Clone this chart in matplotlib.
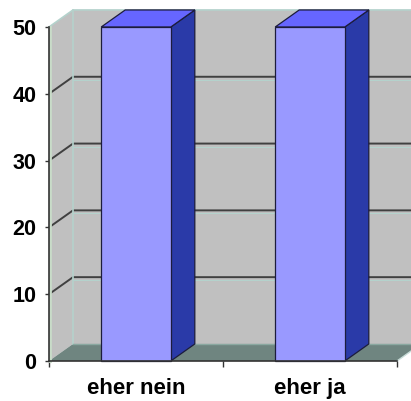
import matplotlib
matplotlib.use("Agg")
import matplotlib.pyplot as plt
from matplotlib.patches import Polygon

categories = ["eher nein", "eher ja"]
values = [50, 50]
y_ticks = [0, 10, 20, 30, 40, 50]

# pseudo-3D depth offsets (in data units)
DX = 0.138
DY = 2.55
BAR_W = 0.40

WALL = "#c0c0c0"
FLOOR = "#6f8580"
EDGE_LIGHT = "#b4d2cc"
FRONT = "#9999ff"
TOP = "#6666ff"
SIDE = "#2a3aa8"
OUTLINE = "#1c1c3c"

plt.rcParams["font.family"] = ["Liberation Sans", "DejaVu Sans"]

fig = plt.figure(figsize=(4.11, 4.01), dpi=100)
ax = fig.add_axes([49 / 411, 40 / 401, 348 / 411, 334 / 401])
ax.set_xlim(0, 2)
ax.set_ylim(0, 50)
ymax = y_ticks[-1]
xr = 2.3

def poly(pts, fc, ec="none", lw=0.0, z=1):
    ax.add_patch(Polygon(pts, closed=True, facecolor=fc, edgecolor=ec,
                         linewidth=lw, zorder=z, clip_on=False))

# walls and floor
poly([(DX, DY), (xr, DY), (xr, ymax + DY), (DX, ymax + DY)], WALL, z=1)
poly([(0, 0), (DX, DY), (DX, ymax + DY), (0, ymax)], WALL, z=1)
poly([(0, 0), (2, 0), (2 + DX, DY), (DX, DY)], FLOOR, z=2)

# gridlines
for v in y_ticks[1:-1]:
    ax.plot([0, DX, xr], [v, v + DY, v + DY], color="#404040", lw=1.4,
            zorder=3, clip_on=False, solid_capstyle="butt")
    ax.plot([DX, xr], [v + DY - 0.45, v + DY - 0.45], color=EDGE_LIGHT,
            lw=0.8, zorder=3, clip_on=False)

# wall edges
ax.plot([DX, DX], [DY, ymax + DY], color=EDGE_LIGHT, lw=1.2, zorder=3, clip_on=False)
ax.plot([0, DX, xr], [ymax, ymax + DY, ymax + DY], color=EDGE_LIGHT, lw=1.2,
        zorder=3, clip_on=False)
ax.plot([0.006, 0.006], [0, ymax], color="#c8dcc8", lw=2.0, zorder=3, clip_on=False)
ax.plot([DX, xr], [DY, DY], color="#8aa8a0", lw=1.0, zorder=3, clip_on=False)
ax.plot([2, 2 + DX], [0, DY], color="#c8dcd8", lw=1.0, zorder=3, clip_on=False)

# bars
for i, v in enumerate(values):
    x0 = i + 0.5 - BAR_W / 2
    x1 = x0 + BAR_W
    poly([(x1, 0), (x1 + DX, DY), (x1 + DX, v + DY), (x1, v)], SIDE, OUTLINE, 0.9, z=5)
    poly([(x0, v), (x1, v), (x1 + DX, v + DY), (x0 + DX, v + DY)], TOP, OUTLINE, 0.9, z=5)
    poly([(x0, 0), (x1, 0), (x1, v), (x0, v)], FRONT, OUTLINE, 0.9, z=6)

# axes lines and ticks
for s in ["top", "right"]:
    ax.spines[s].set_visible(False)
for s in ["left", "bottom"]:
    ax.spines[s].set_color("#333333")
    ax.spines[s].set_linewidth(1.2)
    ax.spines[s].set_zorder(7)
ax.set_facecolor("none")
ax.set_yticks(y_ticks)
ax.set_xticks([0, 1, 2])
ax.set_xticklabels([])
ax.set_xticks([0.5, 1.5], minor=True)
ax.set_xticklabels(categories, minor=True)
ax.tick_params(axis="x", which="major", length=4, width=1, color="#333333", direction="out")
ax.tick_params(axis="x", which="minor", length=0, pad=12, labelsize=16)
ax.tick_params(axis="y", length=3, width=1, color="#333333", pad=6, labelsize=15.5)
for lab in ax.get_xticklabels(minor=True) + ax.get_yticklabels():
    lab.set_fontweight("bold")

fig.savefig("out.png", dpi=100)
